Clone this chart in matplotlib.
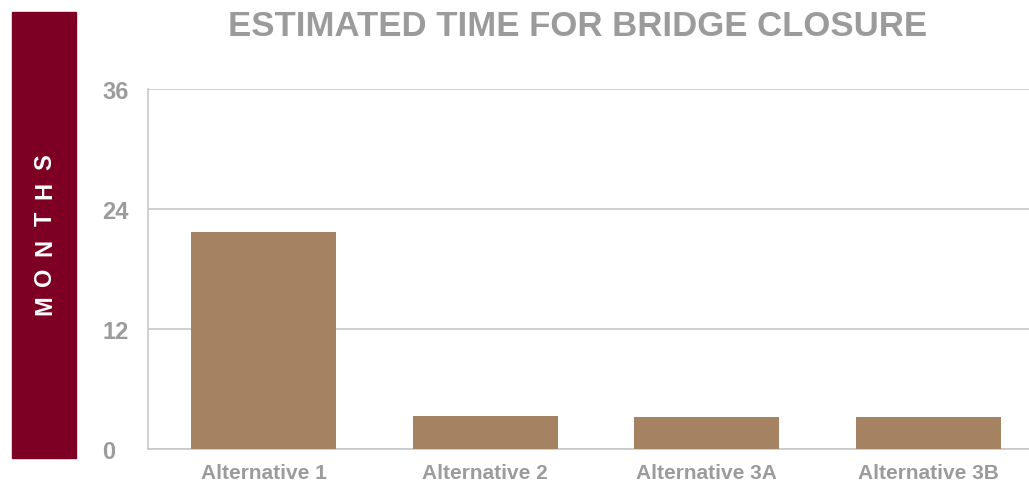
import matplotlib.pyplot as plt
from matplotlib.patches import Rectangle

plt.rcParams['font.family'] = ['Liberation Sans', 'DejaVu Sans']

categories = ['Alternative 1', 'Alternative 2', 'Alternative 3A', 'Alternative 3B']
months = [21.7, 3.3, 3.2, 3.2]
yticks = [0, 12, 24, 36]

gray = '#9b9b9b'
bar_color = '#a58362'
maroon = '#7d0024'

fig = plt.figure(figsize=(10.29, 4.85), dpi=100)
W, H = 1029, 485

# maroon side box with MONTHS label
fig.patches.append(Rectangle((12 / W, 1 - 459 / H), 64 / W, 446 / H,
                             transform=fig.transFigure, color=maroon, zorder=0))
label = 'MONTHS'
for i, ch in enumerate(label):
    y = 305 - i * 28.6
    fig.text(45 / W, 1 - y / H, ch, rotation=90, color='white', fontsize=17,
             fontweight='heavy', ha='center', va='center')

ax = fig.add_axes([148 / W, 1 - 450 / H, 881 / W, 360 / H])
x = list(range(len(categories)))
ax.bar(x, months, width=0.655, color=bar_color, zorder=3)
ax.set_xlim(-0.521, 3.453)
ax.set_ylim(0, 36)
ax.set_yticks(yticks)
ax.set_xticks(x)
ax.set_xticklabels(categories)
ax.grid(axis='y', color='#c8c8c8', linewidth=1.2, zorder=0)
for s in ['top', 'right']:
    ax.spines[s].set_visible(False)
ax.spines['left'].set_color('#c8c8c8')
ax.spines['bottom'].set_color('#c8c8c8')
ax.spines['left'].set_linewidth(1.2)
ax.spines['bottom'].set_linewidth(1.2)
ax.tick_params(length=0)
ax.tick_params(axis='y', pad=33, labelsize=17, labelcolor=gray)
ax.tick_params(axis='x', pad=10, labelsize=15, labelcolor=gray)
for t in ax.get_yticklabels():
    t.set_fontweight('bold')
    t.set_horizontalalignment('left')
for t in ax.get_xticklabels():
    t.set_fontweight('bold')

fig.text(578 / W, 1 - 26 / H, 'ESTIMATED TIME FOR BRIDGE CLOSURE', color=gray,
         fontsize=25, fontweight='bold', ha='center', va='center')

fig.savefig('out.png', dpi=100)
